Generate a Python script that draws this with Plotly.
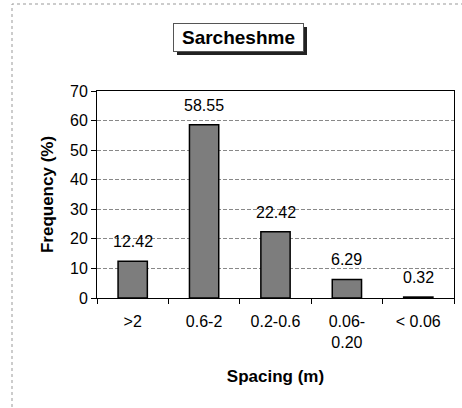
import plotly.graph_objects as go

categories = [">2", "0.6-2", "0.2-0.6", "0.06-<br>0.20", "< 0.06"]
frequency = [12.42, 58.55, 22.42, 6.29, 0.32]
y_ticks = [0, 10, 20, 30, 40, 50, 60, 70]

W, H = 462, 408
L, R, T, B = 97, 8, 91, 110
PW, PH = W - L - R, H - T - B

def px_x(x):
    return (x - L) / PW

def px_y(y):
    return (H - B - y) / PH

FONT = "Liberation Sans, Arial, sans-serif"

fig = go.Figure()
fig.add_trace(go.Bar(
    x=categories, y=frequency,
    marker=dict(color="#7d7d7d", line=dict(color="black", width=1.5)),
    width=0.41,
))

for c, v in zip(categories, frequency):
    fig.add_annotation(x=c, y=v, text=f"{v:.2f}", showarrow=False,
                       xanchor="center", yanchor="bottom", yshift=9,
                       font=dict(family=FONT, size=16, color="black"))

# Title box with shadow
fig.add_shape(type="rect", xref="paper", yref="paper",
              x0=px_x(177), x1=px_x(307), y0=px_y(55), y1=px_y(27),
              fillcolor="#222", line=dict(width=0), layer="above")
fig.add_annotation(xref="paper", yref="paper", x=px_x(238.5), y=px_y(37.5),
                   text="<b>Sarcheshme</b>", showarrow=False,
                   xanchor="center", yanchor="middle",
                   width=127, height=25, borderpad=1, borderwidth=1,
                   bordercolor="#555", bgcolor="white",
                   font=dict(family=FONT, size=19, color="black"))

# Outer chart border (dashed)
fig.add_shape(type="rect", xref="paper", yref="paper",
              x0=px_x(12), x1=px_x(480), y0=px_y(420), y1=px_y(4),
              line=dict(color="#999", width=1, dash="dot"), layer="below")

fig.update_layout(
    width=W, height=H,
    margin=dict(l=L, r=R, t=T, b=B),
    paper_bgcolor="white", plot_bgcolor="white",
    showlegend=False, bargap=0.6,
    font=dict(family=FONT, size=16, color="black"),
    xaxis=dict(
        showline=True, linecolor="black", linewidth=1, mirror=True,
        ticks="outside", tickson="boundaries", ticklen=5, tickcolor="black",
        ticklabelstandoff=9,
        tickfont=dict(family=FONT, size=16, color="black"),
        title=dict(text="<b>Spacing (m)</b>", font=dict(family=FONT, size=17, color="black"), standoff=20),
        showgrid=False,
    ),
    yaxis=dict(
        range=[0, 70], tickvals=y_ticks,
        showline=True, linecolor="black", linewidth=1, mirror=True,
        ticks="outside", ticklen=5, tickcolor="black",
        tickfont=dict(family=FONT, size=16, color="black"),
        showgrid=True, gridcolor="#888", griddash="4px,2px", gridwidth=1,
        zeroline=False,
        title=dict(text="<b>Frequency (%)</b>", font=dict(family=FONT, size=17, color="black"), standoff=12),
    ),
)

fig.write_html("out.html")
